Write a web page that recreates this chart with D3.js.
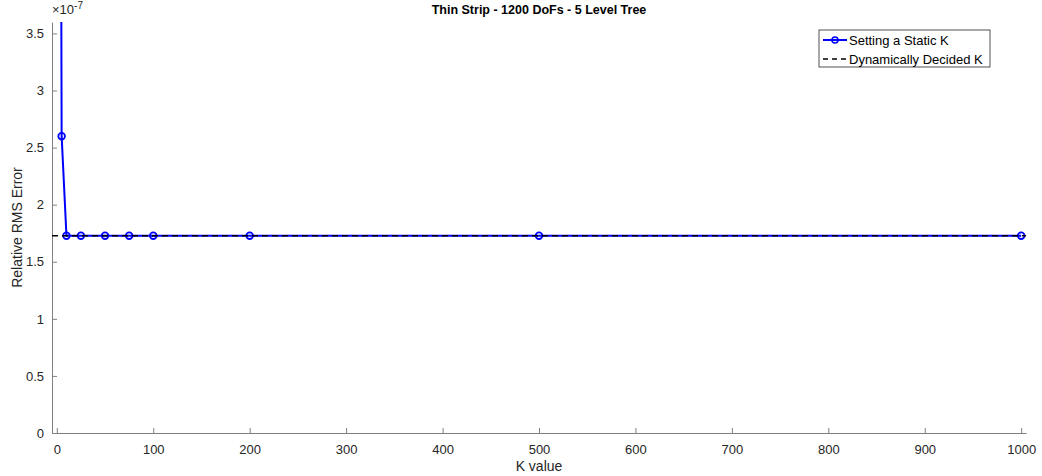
<!DOCTYPE html>
<html>
<head>
<meta charset="utf-8">
<script src="https://cdn.jsdelivr.net/npm/d3@7"></script>
<style>
  body { margin: 0; background: #fff; }
  svg { font-family: "Liberation Sans", Arial, sans-serif; }
  .axis path, .axis line { stroke: #808080; }
  .axis text { fill: #262626; font-size: 13px; }
</style>
</head>
<body>
<div id="chart"></div>
<script>
// K values and the error at each one
var kValues = [1, 5, 10, 25, 50, 75, 100, 200, 500, 1000];
var staticErr = [1.5e-6, 2.6e-7, 1.728e-7, 1.728e-7, 1.728e-7, 1.728e-7, 1.728e-7, 1.728e-7, 1.728e-7, 1.728e-7];
var dynamicErr = 1.728e-7;
var xTicks = [0, 100, 200, 300, 400, 500, 600, 700, 800, 900, 1000];
var yTicks = [0, 0.5e-7, 1e-7, 1.5e-7, 2e-7, 2.5e-7, 3e-7, 3.5e-7];
var seriesNames = ["Setting a Static K", "Dynamically Decided K"];

var W = 1042, H = 476;
var margin = {top: 22, right: 16, bottom: 43, left: 52};
var width = W - margin.left - margin.right;
var height = H - margin.top - margin.bottom;

var svg = d3.select("#chart").append("svg")
    .attr("width", W)
    .attr("height", H);

var g = svg.append("g")
    .attr("transform", "translate(" + margin.left + "," + margin.top + ")");

var x = d3.scaleLinear().domain([-5, 1005]).range([0, width]);
var y = d3.scaleLinear().domain([0, 3.6e-7]).range([height, 0]);

//clip so the first point runs off the top
g.append("clipPath").attr("id", "clip")
    .append("rect").attr("width", width).attr("height", height);

//axes, ticks pointing inward
var xAxis = d3.axisBottom(x).tickValues(xTicks).tickSize(-5).tickSizeOuter(0).tickPadding(12)
    .tickFormat(d3.format("d"));
var yAxis = d3.axisLeft(y).tickValues(yTicks).tickSize(-5).tickSizeOuter(0).tickPadding(8)
    .tickFormat(function(d) { return d3.format("~g")(Math.round(d * 1e8) / 10); });

g.append("g").attr("class", "axis")
    .attr("transform", "translate(0," + height + ")")
    .call(xAxis);
g.append("g").attr("class", "axis")
    .call(yAxis);

//exponent
var ex = g.append("text")
    .attr("x", 0)
    .attr("y", -8)
    .attr("fill", "#262626")
    .style("font-size", "13px");
ex.append("tspan").text("\u00d710");
ex.append("tspan").attr("dy", -5).style("font-size", "10px").text("-7");

var plot = g.append("g").attr("clip-path", "url(#clip)");

var pts = kValues.map(function(k, i) { return [k, staticErr[i]]; });
var line = d3.line().x(function(d) { return x(d[0]); }).y(function(d) { return y(d[1]); });

plot.append("path")
    .datum(pts)
    .attr("d", line)
    .attr("fill", "none")
    .attr("stroke", "#0000ff")
    .attr("stroke-width", 2);

plot.selectAll("circle")
    .data(pts.filter(function(d) { return d[1] <= 3.6e-7; }))
    .enter().append("circle")
    .attr("cx", function(d) { return x(d[0]); })
    .attr("cy", function(d) { return y(d[1]); })
    .attr("r", 3.3)
    .attr("fill", "none")
    .attr("stroke", "#0000ff")
    .attr("stroke-width", 1.8);

//dashed reference drawn on top
plot.append("line")
    .attr("x1", x(-5)).attr("x2", x(1005))
    .attr("y1", y(dynamicErr)).attr("y2", y(dynamicErr))
    .attr("stroke", "#000")
    .attr("stroke-width", 1.5)
    .attr("stroke-dasharray", "6,4");

//labels
svg.append("text")
    .attr("x", margin.left + width / 2)
    .attr("y", 14)
    .attr("text-anchor", "middle")
    .attr("font-weight", "bold")
    .attr("fill", "#000")
    .style("font-size", "12.5px")
    .text("Thin Strip - 1200 DoFs - 5 Level Tree");

svg.append("text")
    .attr("x", margin.left + width / 2)
    .attr("y", 471)
    .attr("text-anchor", "middle")
    .attr("fill", "#262626")
    .style("font-size", "14px")
    .text("K value");

svg.append("text")
    .attr("transform", "translate(22," + (margin.top + height / 2) + ") rotate(-90)")
    .attr("text-anchor", "middle")
    .attr("fill", "#262626")
    .style("font-size", "14px")
    .text("Relative RMS Error");

//legend
var lg = svg.append("g").attr("transform", "translate(819,30)");
lg.append("rect")
    .attr("width", 171).attr("height", 37)
    .attr("fill", "#fff")
    .attr("stroke", "#262626")
    .attr("stroke-width", 0.8);
lg.append("line")
    .attr("x1", 4).attr("x2", 28).attr("y1", 10).attr("y2", 10)
    .attr("stroke", "#0000ff").attr("stroke-width", 2);
lg.append("circle")
    .attr("cx", 16).attr("cy", 10).attr("r", 3)
    .attr("fill", "none").attr("stroke", "#0000ff").attr("stroke-width", 1.6);
lg.append("line")
    .attr("x1", 4).attr("x2", 28).attr("y1", 29).attr("y2", 29)
    .attr("stroke", "#000").attr("stroke-width", 1.5)
    .attr("stroke-dasharray", "5,4");
lg.selectAll("text.leg")
    .data(seriesNames)
    .enter().append("text")
    .attr("class", "leg")
    .attr("x", 30)
    .attr("y", function(d, i) { return 15 + i * 19; })
    .attr("fill", "#000")
    .style("font-size", "13px")
    .text(function(d) { return d; });
</script>
</body>
</html>
